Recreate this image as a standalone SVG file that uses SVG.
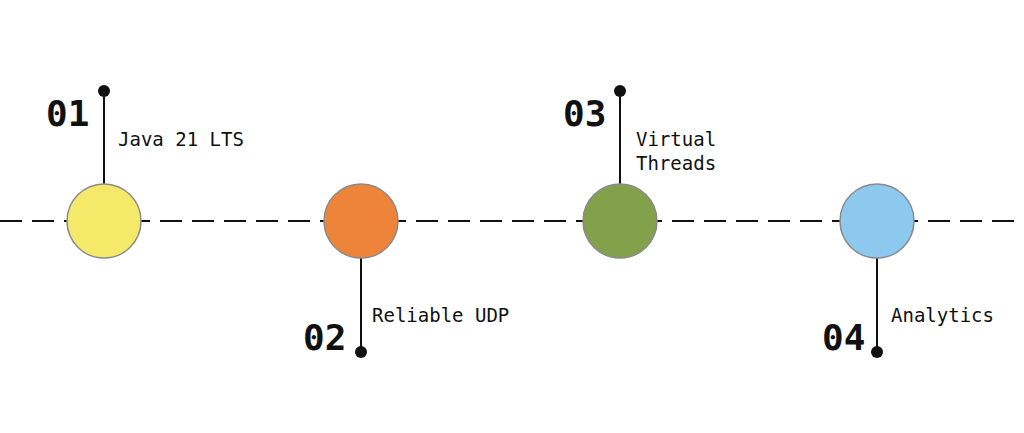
<svg xmlns="http://www.w3.org/2000/svg" width="1024" height="433" viewBox="0 0 1024 433">
<style>
.c{stroke:#8a8a8a;stroke-width:1.5}
.l{stroke:#111;stroke-width:2}
.d{fill:#111}
.n{font-family:"DejaVu Sans Mono",monospace;font-weight:bold;font-size:36px;fill:#111}
.t{font-family:"DejaVu Sans Mono",monospace;font-size:19px;fill:#111}
</style>
<rect width="1024" height="433" fill="#fff"/>
<g id="connectors">
<line x1="0" y1="221" x2="1024" y2="221" stroke="#111" stroke-width="2" stroke-dasharray="22,10"/>
<line class="l" x1="104" y1="91" x2="104" y2="184"/>
<line class="l" x1="361" y1="258" x2="361" y2="352"/>
<line class="l" x1="620" y1="91" x2="620" y2="184"/>
<line class="l" x1="877" y1="258" x2="877" y2="352"/>
</g>
<g id="n1"><circle class="c" cx="104" cy="221" r="37" fill="#F5E96A"/><circle class="d" cx="104" cy="91" r="6"/><text class="n" x="46" y="126">01</text><text class="t" x="118" y="146">Java 21 LTS</text></g>
<g id="n2"><circle class="c" cx="361" cy="221" r="37" fill="#EE843A"/><circle class="d" cx="361" cy="352" r="6"/><text class="n" x="303" y="350">02</text><text class="t" x="372" y="322">Reliable UDP</text></g>
<g id="n3"><circle class="c" cx="620" cy="221" r="37" fill="#83A04A"/><circle class="d" cx="620" cy="91" r="6"/><text class="n" x="563" y="126">03</text><text class="t" x="636" y="146">Virtual</text><text class="t" x="636" y="170">Threads</text></g>
<g id="n4"><circle class="c" cx="877" cy="221" r="37" fill="#8DC8EE"/><circle class="d" cx="877" cy="352" r="6"/><text class="n" x="822" y="350">04</text><text class="t" x="891" y="322">Analytics</text></g>
</svg>
